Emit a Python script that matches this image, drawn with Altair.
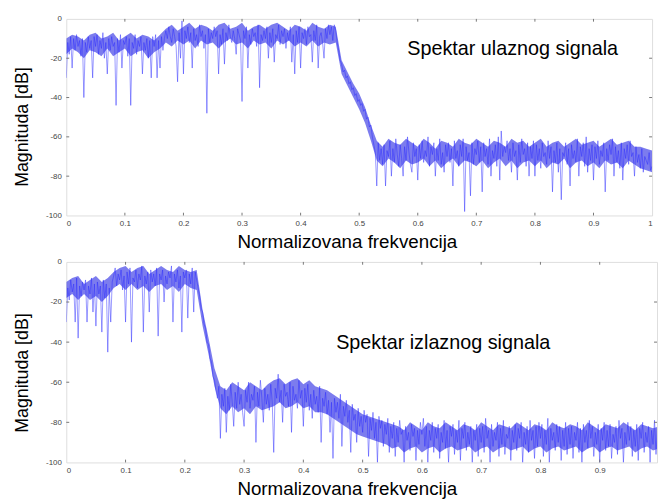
import altair as alt
import pandas as pd

STEP = 0.0025  # frequency spacing of the read-off samples
BAND_STEP = 0.01  # spacing of the read-off dense-core envelope

# ---- Input spectrum (top panel), dB ----
top_pass_low = [
    -30,-12,-18,-9,-25,-10,-16,-8,-14,-11,-19,-10,-40,-12,-17,-9,-15,-11,-30,-9,
    -14,-8,-18,-11,-15,-7,-20,-12,-28,-10,-16,-9,-14,-12,-44,-10,-17,-8,-25,-11,
    -13,-9,-19,-10,-44,-12,-15,-8,-18,-11,-14,-9,-28,-12,-16,-10,-20,-11,-30,-9,
    -14,-8,-30,-11,-25,-9,-16,-10,-6,-10,-4,-9,-12,-5,-9,-14,-32,-7,-20,-1,
]
top_pass_high = [
    -28,-6,-10,-4,-12,-7,-25,-5,-11,-8,-14,-3,-9,-6,-15,-8,-48,-5,-12,-7,
    -10,-4,-9,-6,-28,-8,-13,-5,-23,-7,-11,-3,-9,-12,-6,-10,-18,-5,-8,-11,
    -42,-6,-10,-4,-25,-8,-13,-5,-9,-7,-14,-3,-35,-8,-11,-6,-10,-4,-20,-7,
    -12,-5,-22,-8,-10,-3,-13,-6,-9,-5,-15,-7,-11,-4,-22,-8,-28,-6,-12,-4,
    -25,-7,-10,-5,-13,-4,-9,-8,-22,-6,-11,-3,-25,-9,-7,-12,-20,-5,-10,-3,
]
top_transition = [
    -8,-4,-11,-3,-6,-12,-16,-21,-23,-27,-26,-30,-29,-33,-32,-36,-35,-39,-38,-42,
    -41,-44,-43,-47,-46,-51,-50,-55,-54,-60,-64,-68,-85,-63,-72,-66,-74,-64,-85,-67,
]
top_stop = [
    -70,-62,-80,-66,-73,-61,-69,-75,-64,-71,-80,-65,-72,-60,-68,-74,-78,-63,-70,-66,
    -82,-64,-71,-62,-73,-67,-70,-60,-75,-65,-69,-63,-80,-66,-72,-61,-74,-68,-78,-64,
    -70,-63,-73,-66,-85,-62,-71,-67,-75,-64,-70,-61,-98,-65,-72,-68,-90,-63,-74,-66,
    -69,-62,-73,-65,-88,-63,-70,-66,-74,-61,-80,-67,-71,-64,-75,-60,-82,-57,-70,-65,
    -68,-62,-72,-66,-78,-63,-70,-67,-82,-64,-73,-61,-69,-66,-75,-63,-80,-65,-71,-62,
    -80,-64,-72,-66,-76,-63,-70,-68,-74,-62,-71,-65,-88,-67,-73,-63,-78,-66,-92,-68,
    -70,-63,-74,-66,-85,-64,-71,-67,-73,-61,-80,-65,-70,-63,-75,-60,-78,-66,-72,-64,
    -82,-65,-71,-62,-74,-67,-70,-63,-88,-66,-72,-64,-69,-61,-80,-65,-73,-67,-76,-63,
    -82,-66,-71,-64,-74,-62,-70,-68,-80,-65,-73,-69,-76,-66,-78,-70,-72,-74,-68,-77,
    -75,
]
# dense core of the input spectrum (upper / lower edge), every 0.01
top_core_hi = [
    -10,-8,-9,-11,-8,-7,-10,-9,-7,-11,
    -9,-7,-10,-8,-9,-11,-8,-5,-3,-6,
    -4,-2,-5,-3,-4,-6,-3,-2,-5,-4,
    -2,-6,-4,-3,-5,-3,-2,-4,-6,-3,
    -4,-6,-2,-4,-5,-3,-4,-21,-27,-33,
    -38,-45,-54,-62,-65,-61,-63,-64,-61,-63,
    -65,-61,-63,-66,-62,-63,-65,-61,-63,-64,
    -61,-63,-65,-62,-63,-65,-61,-63,-62,-65,
    -63,-61,-65,-63,-62,-65,-63,-61,-64,-63,
    -62,-65,-63,-61,-64,-63,-62,-65,-65,-66,
    -67,
]
top_core_lo = [
    -18,-15,-17,-20,-16,-17,-19,-15,-19,-17,
    -15,-19,-17,-16,-20,-17,-15,-12,-14,-11,
    -13,-11,-15,-11,-13,-12,-15,-12,-10,-13,
    -12,-15,-11,-13,-12,-15,-11,-13,-11,-14,
    -12,-14,-11,-14,-12,-13,-12,-28,-34,-40,
    -46,-53,-62,-72,-75,-71,-73,-76,-72,-74,
    -73,-71,-75,-72,-76,-73,-71,-75,-72,-73,
    -75,-72,-76,-73,-71,-75,-72,-76,-73,-72,
    -75,-72,-76,-73,-74,-71,-76,-73,-72,-75,
    -73,-76,-72,-74,-73,-76,-72,-74,-76,-77,
    -78,
]

# ---- Output spectrum (bottom panel), dB ----
bot_pass = [
    -30,-13,-19,-9,-15,-11,-30,-8,-38,-12,-17,-10,-14,-9,-30,-12,-16,-8,-25,-11,
    -32,-10,-16,-12,-35,-9,-18,-11,-45,-13,-30,-10,-7,-3,-12,-6,-9,-4,-14,-7,
    -30,-5,-11,-3,-40,-8,-10,-4,-13,-6,-9,-2,-35,-7,-11,-5,-25,-4,-10,-6,
    -12,-3,-37,-6,-9,-4,-20,-7,-11,-5,-8,-2,-30,-6,-10,-4,-13,-7,-35,-5,
]
bot_transition = [
    -8,-4,-28,-6,-11,-3,-25,-5,-9,-13,-17,-23,-25,-31,-33,-40,-41,-48,-50,-57,
]
bot_shelf = [
    -59,-64,-68,-62,-88,-66,-72,-63,-85,-67,-74,-61,-70,-82,-65,-73,-60,-71,-66,-75,
    -82,-64,-70,-60,-73,-66,-69,-62,-90,-65,-72,-59,-68,-80,-63,-71,-66,-74,-61,-70,
    -95,-63,-68,-56,-70,-64,-80,-61,-67,-65,-72,-60,-85,-62,-69,-66,-73,-59,-68,-64,
    -82,-63,-70,-61,-74,-66,-78,-64,-71,-67,-75,-62,-90,-68,-72,-65,-76,-69,-85,-70,
    -98,-68,-75,-70,-78,-66,-92,-72,-77,-69,-80,-74,-95,-71,-79,-76,-90,-73,-82,-77,
]
bot_stop = [
    -85,-74,-80,-76,-97,-78,-84,-75,-88,-80,-100,-77,-83,-79,-92,-81,-86,-78,-95,-82,
    -88,-80,-97,-83,-90,-79,-86,-84,-100,-82,-89,-85,-94,-81,-87,-83,-99,-84,-91,-80,
    -86,-78,-92,-82,-100,-84,-89,-80,-95,-83,-88,-81,-98,-85,-90,-79,-93,-84,-100,-82,
    -87,-81,-96,-84,-90,-79,-99,-83,-88,-80,-94,-85,-91,-82,-100,-84,-89,-81,-97,-83,
    -90,-82,-95,-78,-88,-84,-100,-81,-92,-85,-89,-80,-97,-83,-91,-79,-96,-86,-88,-82,
    -99,-84,-90,-81,-94,-83,-88,-80,-100,-85,-91,-82,-95,-79,-89,-84,-98,-82,-92,-80,
    -88,-81,-97,-84,-91,-78,-100,-83,-89,-85,-94,-81,-90,-82,-99,-84,-92,-80,-96,-83,
    -91,-82,-98,-85,-89,-80,-95,-83,-100,-81,-90,-84,-93,-79,-88,-82,-97,-85,-91,-81,
    -100,-83,-89,-80,-94,-84,-92,-81,-98,-86,-90,-82,-96,-79,-88,-83,-100,-85,-91,-80,
    -89,-82,-97,-84,-92,-81,-99,-83,-88,-80,-95,-85,-90,-82,-100,-84,-91,-79,-96,-83,
]
# dense core of the output spectrum (upper / lower edge), every 0.01
bot_core_hi = [
    -10,-8,-7,-11,-9,-7,-10,-8,-5,-3,
    -2,-5,-3,-2,-6,-4,-2,-4,-5,-2,
    -4,-5,-4,-24,-38,-53,-62,-64,-60,-62,
    -64,-60,-62,-64,-61,-59,-58,-61,-59,-58,
    -61,-59,-62,-63,-64,-66,-68,-70,-72,-74,
    -76,-77,-78,-79,-80,-81,-82,-84,-80,-82,
    -84,-80,-82,-83,-80,-82,-84,-81,-82,-84,
    -80,-82,-84,-81,-82,-83,-80,-82,-84,-81,
    -82,-84,-80,-82,-83,-81,-82,-84,-80,-82,
    -84,-81,-82,-83,-80,-82,-84,-81,-82,-83,
    -82,
]
bot_core_lo = [
    -18,-16,-19,-16,-19,-17,-20,-17,-13,-11,
    -14,-11,-14,-12,-15,-12,-11,-14,-12,-15,
    -11,-13,-14,-32,-46,-62,-73,-76,-72,-75,
    -73,-76,-72,-74,-73,-72,-70,-73,-72,-70,
    -73,-72,-75,-75,-76,-78,-80,-82,-84,-86,
    -87,-88,-89,-90,-91,-93,-92,-95,-93,-92,
    -95,-93,-92,-95,-93,-92,-94,-93,-92,-95,
    -93,-92,-95,-93,-92,-94,-93,-92,-95,-93,
    -92,-95,-93,-92,-94,-93,-92,-95,-93,-92,
    -95,-93,-92,-94,-93,-92,-95,-93,-92,-94,
    -93,
]

top_db = top_pass_low + top_pass_high + top_transition + top_stop
bot_db = bot_pass + bot_transition + bot_shelf + bot_stop

x_ticks_top = [0, 0.1, 0.2, 0.3, 0.4, 0.5, 0.6, 0.7, 0.8, 0.9, 1]
x_ticks_bot = [0, 0.1, 0.2, 0.3, 0.4, 0.5, 0.6, 0.7, 0.8, 0.9]
y_ticks = [0, -20, -40, -60, -80, -100]

X_TITLE = "Normalizovana frekvencija"
Y_TITLE = "Magnituda [dB]"
FONT = "Liberation Sans"
LINE = "#2b2bff"
CORE = "#1010e0"
FRAME = "#9a9a9a"


def panel(vals, hi, lo, xmax, w, h, xticks, note, nx, ny, ytitle_y):
    df = pd.DataFrame({"f": [i * STEP for i in range(len(vals))], "db": vals})
    band = pd.DataFrame({"f": [i * BAND_STEP for i in range(len(hi))],
                         "hi": hi, "lo": lo})
    xs = alt.Scale(domain=[0, xmax], nice=False, zero=False)
    ys = alt.Scale(domain=[-100, 0], nice=False)
    xaxis = alt.Axis(values=xticks, tickCount=len(xticks),
                     labelExpr="'' + datum.value", tickSize=0,
                     domain=False, grid=False, labelFontSize=8, labelColor="#444",
                     labelPadding=4, labelFont=FONT, labelOverlap=False,
                     title=X_TITLE, titleFont=FONT,
                     titleFontSize=19, titleFontWeight="normal", titleColor="#000",
                     titlePadding=5, titleX=284, titleAlign="center")
    yaxis = alt.Axis(values=y_ticks, tickCount=len(y_ticks),
                     labelExpr="'' + datum.value", tickSize=0,
                     domain=False, grid=False, labelFontSize=8, labelColor="#444",
                     labelPadding=5, labelFont=FONT, labelOverlap=False,
                     labelBound=False,
                     title=Y_TITLE, titleFont=FONT,
                     titleFontSize=18, titleFontWeight="normal", titleColor="#000",
                     titleX=-44, titleY=ytitle_y, titleBaseline="middle",
                     titleAlign="center", titleAngle=270)
    core = alt.Chart(band).mark_area(color=CORE, opacity=0.55, clip=True).encode(
        x=alt.X("f:Q", scale=xs, axis=xaxis),
        y=alt.Y("hi:Q", scale=ys, axis=yaxis),
        y2="lo:Q",
    )
    line = alt.Chart(df).mark_line(color=LINE, strokeWidth=0.6, opacity=0.8,
                                   clip=True).encode(
        x=alt.X("f:Q", scale=xs, axis=xaxis),
        y=alt.Y("db:Q", scale=ys, axis=yaxis),
    )
    # inward tick marks (MATLAB style) on all four sides
    xt = [v for v in xticks if 0 < v < xmax]
    bt = pd.DataFrame({"f": xt, "a": [-100] * len(xt), "b": [-98.6] * len(xt)})
    tt = pd.DataFrame({"f": xt, "a": [0] * len(xt), "b": [-1.4] * len(xt)})
    yt = [v for v in y_ticks if -100 < v < 0]
    d = 0.005 * xmax
    lt = pd.DataFrame({"db": yt, "a": [0] * len(yt), "b": [d] * len(yt)})
    rt = pd.DataFrame({"db": yt, "a": [xmax - d] * len(yt), "b": [xmax] * len(yt)})
    tick_style = dict(color="#777", strokeWidth=1)
    xticks_layer = [
        alt.Chart(t).mark_rule(**tick_style).encode(
            x=alt.X("f:Q", scale=xs, axis=xaxis), y=alt.Y("a:Q", scale=ys, axis=yaxis),
            y2="b:Q")
        for t in (bt, tt)
    ]
    yticks_layer = [
        alt.Chart(t).mark_rule(**tick_style).encode(
            y=alt.Y("db:Q", scale=ys, axis=yaxis), x=alt.X("a:Q", scale=xs, axis=xaxis),
            x2="b:Q")
        for t in (lt, rt)
    ]
    txt = alt.Chart(pd.DataFrame({"f": [nx], "db": [ny], "t": [note]})).mark_text(
        font=FONT, fontSize=20, color="#000", align="center", baseline="middle"
    ).encode(x=alt.X("f:Q", scale=xs, axis=xaxis),
             y=alt.Y("db:Q", scale=ys, axis=yaxis), text="t:N")
    return alt.layer(core, line, *xticks_layer, *yticks_layer, txt).properties(
        width=w, height=h)


top = panel(top_db, top_core_hi, top_core_lo, 1.0, 593, 199, x_ticks_top,
            "Spektar ulaznog signala", 0.762, -15.6, 109)
bottom = panel(bot_db, bot_core_hi, bot_core_lo, 0.9967, 598, 203, x_ticks_bot,
               "Spektar izlaznog signala", 0.636, -40.4, 112)

chart = alt.vconcat(top, bottom, spacing=47, bounds="flush").properties(
    padding={"left": 5, "top": 3, "right": 0, "bottom": 0},
).configure_view(stroke=FRAME, strokeWidth=1).configure_axis(
    labelOverlap=False
).configure(background="white")

chart.save("out.html", embed_options={"renderer": "svg", "actions": False})
